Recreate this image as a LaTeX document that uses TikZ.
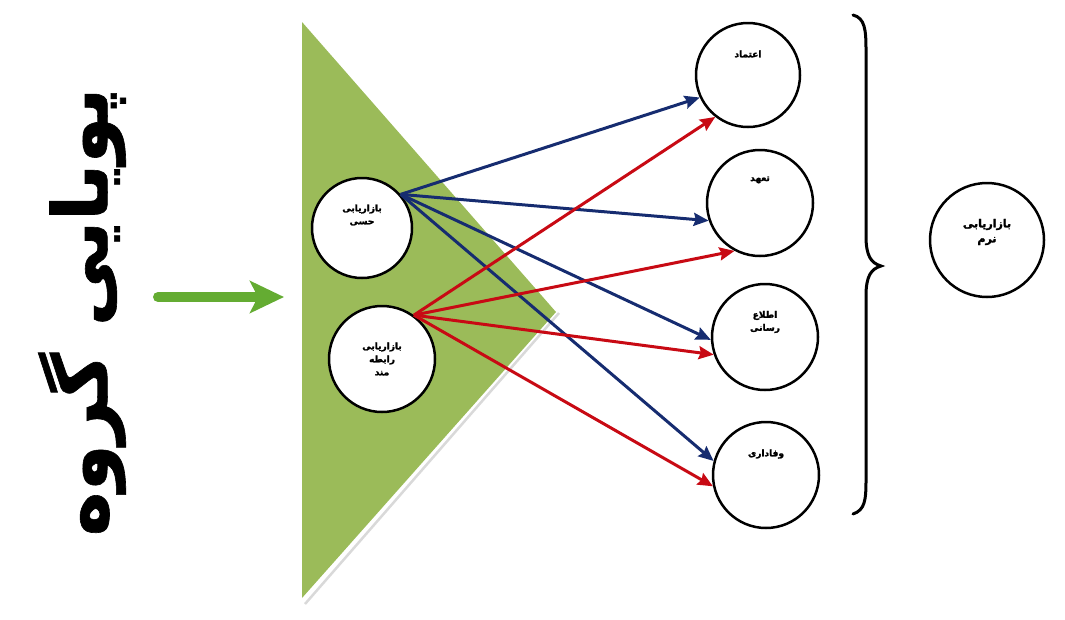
\documentclass[tikz,border=0pt]{standalone}
\usepackage{fontspec}
\newfontfamily\arabicfont[Script=Arabic,FakeBold=2]{DejaVu Sans}
\newfontfamily\titlefont[Script=Arabic,FakeBold=0.8]{DejaVu Sans}
\TeXXeTstate=1
\usetikzlibrary{arrows.meta}

\definecolor{trigreen}{HTML}{9BBB59}
\definecolor{arrowgreen}{RGB}{100,172,50}
\definecolor{linkblue}{RGB}{22,44,112}
\definecolor{linkred}{RGB}{200,10,20}

\newcommand{\fa}[1]{\beginR #1\endR}

\tikzset{
  bubble/.style={circle,draw=black,line width=2.5pt,fill=white,minimum size=#1,inner sep=0pt},
  bubtext/.style={font=\arabicfont\bfseries\fontsize{9}{13}\selectfont,align=center},
  bluelink/.style={draw=linkblue,line width=3pt,-{Stealth[length=15pt,width=13pt,inset=2pt]}},
  redlink/.style={draw=linkred,line width=3pt,-{Stealth[length=15pt,width=13pt,inset=2pt]}}
}

\begin{document}
\begin{tikzpicture}[x=1pt,y=-1pt]
  \useasboundingbox (0,0) rectangle (1065,619);

  % green triangle with its light edge
  \fill[trigreen] (302,22) -- (556,312) -- (302,598) -- cycle;
  \draw[gray!30,line width=2.5pt] (559,313) -- (305,604);

  % title on the left
  \node[rotate=90,font=\titlefont\bfseries\fontsize{76}{80}\selectfont] (group) at (82,312) {\fa{پویایی گروه}};

  \coordinate (arrowstart) at (158,297);
  \coordinate (arrowend) at (284,297);
  \draw[arrowgreen,line width=10pt,line cap=round,-{Stealth[length=34pt,width=32pt,inset=8pt]}] (arrowstart) -- (arrowend);

  % circles
  \node[bubble=100pt] (hessi) at (362,228) {};
  \node[bubble=106pt] (rabete) at (382,359) {};
  \node[bubble=104pt] (etemad) at (748,75) {};
  \node[bubble=106pt] (taahod) at (760,203) {};
  \node[bubble=106pt] (ettela) at (765,337) {};
  \node[bubble=106pt] (vafa) at (766,475) {};
  \node[bubble=114pt] (narm) at (987,240) {};

  \node[bubtext] (hessi-t) at ([yshift=13pt]hessi.center) {\fa{بازاریابی}\\\fa{حسی}};
  \node[bubtext] (rabete-t) at (rabete.center) {\fa{بازاریابی}\\\fa{رابطه}\\\fa{مند}};
  \node[bubtext] (etemad-t) at ([yshift=21pt]etemad.center) {\fa{اعتماد}};
  \node[bubtext] (taahod-t) at ([yshift=23pt]taahod.center) {\fa{تعهد}};
  \node[bubtext] (ettela-t) at ([yshift=15pt]ettela.center) {\fa{اطلاع}\\\fa{رسانی}};
  \node[bubtext] (vafa-t) at ([yshift=21pt]vafa.center) {\fa{وفاداری}};
  \node[bubtext,font=\arabicfont\bfseries\fontsize{11}{15}\selectfont] (narm-t) at ([yshift=8pt]narm.center) {\fa{بازاریابی}\\\fa{نرم}};

  % links
  \draw[bluelink] (hessi.41) -- (etemad.205);
  \draw[bluelink] (hessi.41) -- (taahod.199);
  \draw[bluelink] (hessi.41) -- (ettela.183);
  \draw[bluelink] (hessi.41) -- (vafa.165);

  \draw[redlink] (rabete.54) -- (etemad.232);
  \draw[redlink] (rabete.54) -- (taahod.242);
  \draw[redlink] (rabete.54) -- (ettela.199);
  \draw[redlink] (rabete.54) -- (vafa.192);

  % brace
  \draw[line width=3pt,line cap=round] (853,15) .. controls (865,18) and (866,30) .. (866,50)
    -- (866,236) .. controls (866,256) and (871,263) .. (881,266)
    .. controls (871,269) and (866,276) .. (866,296)
    -- (866,480) .. controls (866,500) and (865,510) .. (853,514);
\end{tikzpicture}
\end{document}
